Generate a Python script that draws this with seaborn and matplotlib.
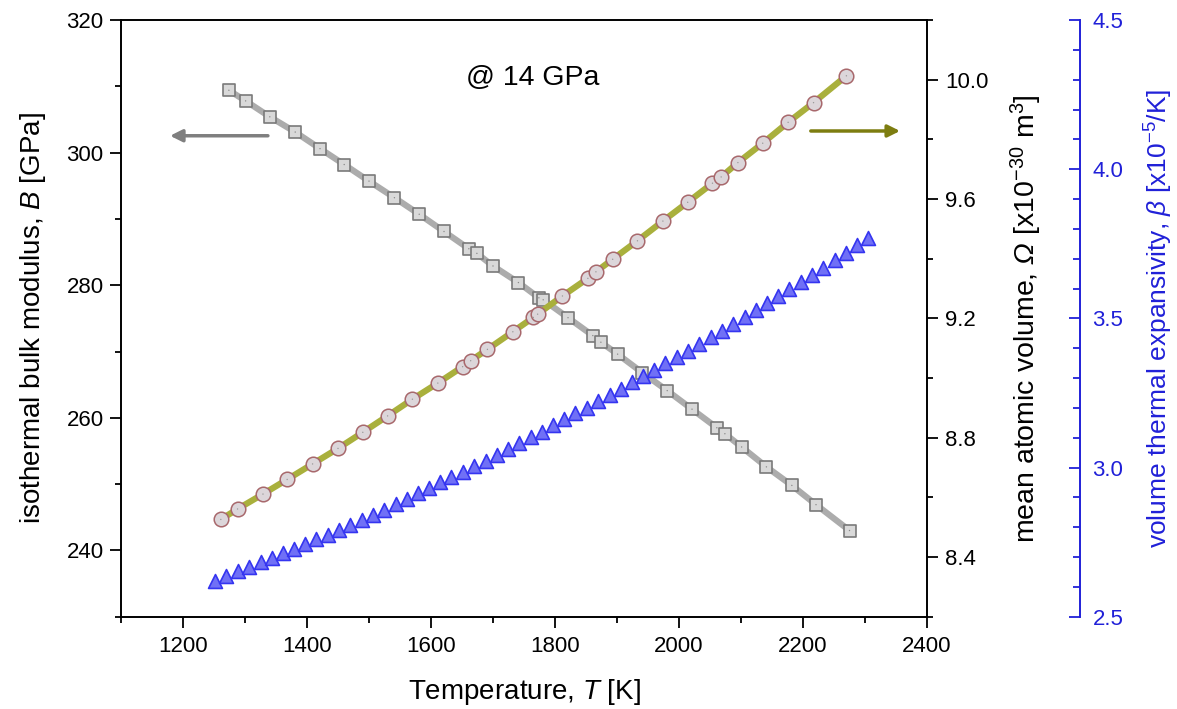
import numpy as np
import matplotlib
matplotlib.use("Agg")
import matplotlib.pyplot as plt
import matplotlib.ticker as mticker
import seaborn as sns

# bulk modulus B [GPa] vs T [K] (grey squares)
T_B = [1274, 1301, 1340, 1381, 1421, 1460, 1500, 1541, 1581, 1621,
       1661, 1674, 1700, 1741, 1774, 1781, 1821, 1861, 1874, 1901,
       1941, 1981, 2021, 2061, 2074, 2101, 2141, 2182, 2221, 2275]
B = [309.4, 307.8, 305.4, 303.1, 300.6, 298.2, 295.7, 293.2, 290.7, 288.1,
     285.5, 284.8, 282.9, 280.4, 278.1, 277.8, 275.1, 272.4, 271.4, 269.6,
     266.8, 264.1, 261.3, 258.5, 257.6, 255.6, 252.6, 249.8, 246.9, 243.0]

# mean atomic volume [x1e-30 m^3] (olive line, circles)
T_V = [1261, 1288, 1329, 1368, 1409, 1450, 1490, 1530, 1570, 1611,
       1651, 1664, 1691, 1732, 1765, 1772, 1812, 1853, 1866, 1893,
       1933, 1974, 2014, 2054, 2068, 2095, 2135, 2176, 2217, 2270]
V = [8.526, 8.561, 8.611, 8.660, 8.712, 8.764, 8.818, 8.873, 8.929, 8.983,
     9.038, 9.058, 9.096, 9.155, 9.203, 9.214, 9.275, 9.334, 9.356, 9.398,
     9.460, 9.526, 9.589, 9.653, 9.674, 9.722, 9.787, 9.857, 9.923, 10.013]

# volume thermal expansivity [x1e-5 /K] (blue triangles)
T_beta = [1252, 1270, 1288, 1306, 1325, 1343, 1361, 1379, 1397, 1415,
          1434, 1452, 1470, 1488, 1506, 1524, 1543, 1561, 1579, 1597,
          1615, 1633, 1652, 1670, 1688, 1706, 1724, 1742, 1761, 1779,
          1797, 1815, 1833, 1851, 1870, 1888, 1906, 1924, 1942, 1960,
          1978, 1997, 2015, 2033, 2051, 2069, 2087, 2106, 2124, 2142,
          2160, 2178, 2196, 2215, 2233, 2251, 2269, 2287, 2305]
beta = [2.620, 2.636, 2.653, 2.668, 2.682, 2.696, 2.713, 2.727, 2.743, 2.759,
        2.775, 2.791, 2.807, 2.824, 2.841, 2.859, 2.877, 2.893, 2.914, 2.932,
        2.951, 2.969, 2.986, 3.005, 3.023, 3.042, 3.061, 3.081, 3.101, 3.120,
        3.141, 3.162, 3.182, 3.201, 3.223, 3.243, 3.263, 3.286, 3.307, 3.327,
        3.349, 3.371, 3.392, 3.414, 3.436, 3.459, 3.481, 3.504, 3.528, 3.550,
        3.574, 3.598, 3.622, 3.645, 3.670, 3.695, 3.719, 3.745, 3.770]

sns.set_style("ticks", {'text.color': 'black', 'axes.labelcolor': 'black',
                        'xtick.color': 'black', 'ytick.color': 'black',
                        'axes.edgecolor': 'black'})
plt.rcParams['font.family'] = ['Liberation Sans', 'DejaVu Sans']
plt.rcParams['mathtext.fontset'] = 'custom'
plt.rcParams['mathtext.rm'] = 'Liberation Sans'
plt.rcParams['mathtext.it'] = 'Liberation Sans:italic'
plt.rcParams['mathtext.cal'] = 'Liberation Sans:italic'
plt.rcParams['axes.linewidth'] = 1.4

blue = '#2020d8'
tick_fs = 16

fig = plt.figure(figsize=(11.77, 7.09), dpi=100)
ax = fig.add_axes([121/1177, 92.3/709, 806/1177, 596.7/709])
ax2 = ax.twinx()
ax3 = ax.twinx()
ax3.spines['right'].set_position(('axes', 959/806))

# grey: bulk modulus
sns.lineplot(x=T_B, y=B, ax=ax, color='#acacac', lw=4.5, zorder=2)
sns.scatterplot(x=T_B, y=B, ax=ax, marker='s', s=80, color='#d9d9d9',
                edgecolor='#7a7a7a', linewidth=1.2, zorder=3)
sns.scatterplot(x=T_B, y=B, ax=ax, marker='.', s=4, color='#8a8a8a',
                edgecolor='none', zorder=4)

# olive: atomic volume
sns.lineplot(x=T_V, y=V, ax=ax2, color='#a9b03c', lw=4.5, zorder=2)
sns.scatterplot(x=T_V, y=V, ax=ax2, marker='o', s=110, color='#dcd6da',
                edgecolor='#a8686c', linewidth=1.1, zorder=3)
sns.scatterplot(x=T_V, y=V, ax=ax2, marker='.', s=4, color='#9a9a9a',
                edgecolor='none', zorder=4)

# blue: expansivity
sns.scatterplot(x=T_beta, y=beta, ax=ax3, marker='^', s=100, color='#7070f6',
                edgecolor='#3535f0', linewidth=1.2, zorder=3)

ax.set_xlim(1100, 2400)
ax.set_ylim(230, 320)
ax2.set_ylim(8.2, 10.2)
ax3.set_ylim(2.5, 4.5)

ax.xaxis.set_major_locator(mticker.MultipleLocator(200))
ax.xaxis.set_minor_locator(mticker.MultipleLocator(100))
ax.yaxis.set_major_locator(mticker.MultipleLocator(20))
ax.yaxis.set_minor_locator(mticker.MultipleLocator(10))
ax2.yaxis.set_major_locator(mticker.FixedLocator([8.4, 8.8, 9.2, 9.6, 10.0]))
ax2.yaxis.set_minor_locator(mticker.FixedLocator([8.2, 8.6, 9.0, 9.4, 9.8, 10.2]))
ax2.yaxis.set_major_formatter(mticker.FormatStrFormatter('%.1f'))
ax3.yaxis.set_major_locator(mticker.MultipleLocator(0.5))
ax3.yaxis.set_minor_locator(mticker.MultipleLocator(0.1))
ax3.yaxis.set_major_formatter(mticker.FormatStrFormatter('%.1f'))

for a in (ax, ax2):
    a.tick_params(which='major', length=8, width=1.3, labelsize=tick_fs, direction='out',
                  colors='black')
    a.tick_params(which='minor', length=4, width=1.3, direction='out', colors='black')
ax.tick_params(axis='x', pad=6)
ax.tick_params(axis='y', pad=4.5)
ax2.tick_params(axis='y', pad=5)

for s in ('top', 'left', 'bottom'):
    ax2.spines[s].set_visible(False)
    ax3.spines[s].set_visible(False)
ax.spines['right'].set_visible(False)
ax2.spines['right'].set_color('black')
ax3.spines['right'].set_color(blue)
ax3.spines['right'].set_linewidth(1.4)
ax3.tick_params(axis='y', which='major', length=8, width=1.3, direction='in',
                colors=blue, labelsize=tick_fs, pad=9)
ax3.tick_params(axis='y', which='minor', length=5, width=1.3, direction='in', colors=blue)

ax.set_xlabel('Temperature, $T$ [K]', fontsize=20, labelpad=14)
ax.set_ylabel('isothermal bulk modulus, $B$ [GPa]', fontsize=20, labelpad=13)
ax2.set_ylabel(r'mean atomic volume, $\mathcal{\Omega}$ [x10$^{-30}$ m$^{3}$]',
               fontsize=20.5, labelpad=15)
ax3.set_ylabel(r'volume thermal expansivity, $\beta$ [x10$^{-5}$/K]', fontsize=19,
               color=blue, labelpad=14)

ax.text(0.511, 0.891, '@ 14 GPa', transform=ax.transAxes, fontsize=20.5,
        ha='center', va='baseline')

ax.annotate('', xy=(0.0574, 0.806), xytext=(0.1857, 0.806), xycoords='axes fraction',
            arrowprops=dict(arrowstyle='-|>', color='#7f7f7f', lw=2.5, mutation_scale=18))
ax2.annotate('', xy=(0.970, 0.814), xytext=(0.8524, 0.814), xycoords='axes fraction',
             arrowprops=dict(arrowstyle='-|>', color='#7d7d10', lw=2.5, mutation_scale=18))

fig.savefig('out.png', dpi=100)
